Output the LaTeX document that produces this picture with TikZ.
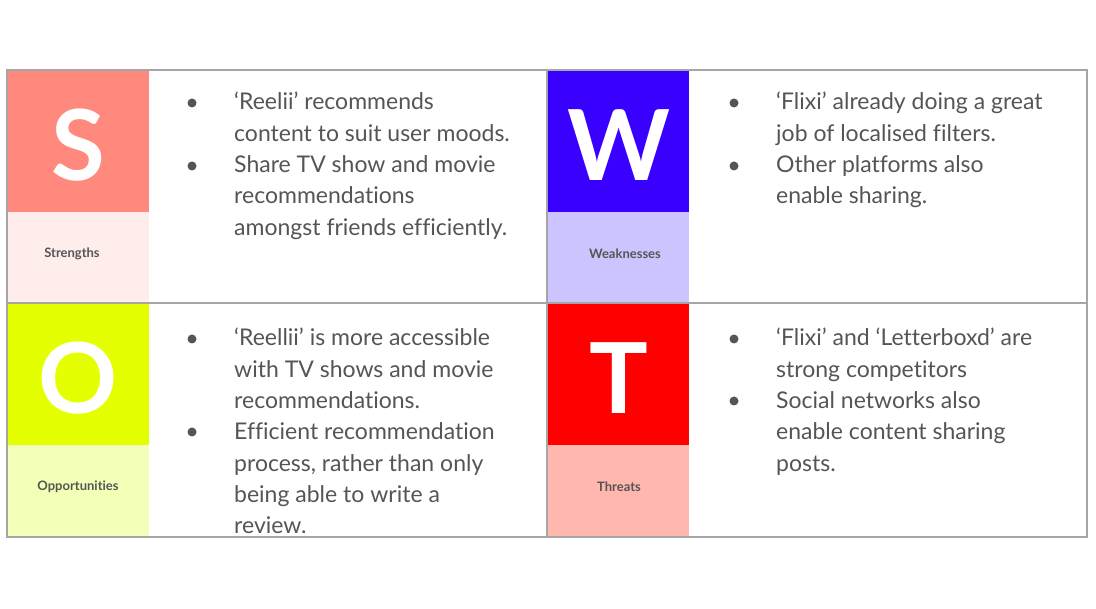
\documentclass[tikz,border=0pt]{standalone}
\usepackage{fontspec}
\setmainfont{Lato}[Ligatures={NoCommon}]
\definecolor{txt}{HTML}{555555}
\definecolor{frame}{HTML}{A6A6A6}
\definecolor{sTop}{HTML}{FF897D}
\definecolor{sBot}{HTML}{FFEDEB}
\definecolor{wTop}{HTML}{3A00FF}
\definecolor{wBot}{HTML}{CCC4FF}
\definecolor{oTop}{HTML}{E4FF00}
\definecolor{oBot}{HTML}{F2FFB6}
\definecolor{tTop}{HTML}{FF0000}
\definecolor{tBot}{HTML}{FFB7AE}
\tikzset{
  x=1pt, y=-1pt,
  cell/.style={draw=none, inner sep=0pt, outer sep=0pt, anchor=north west},
  letter/.style={text=white, font=\bfseries\fontsize{98}{98}\selectfont, inner sep=0pt},
  lab/.style={text=txt, font=\bfseries\fontsize{13}{15}\selectfont, inner sep=0pt},
  body/.style={text=txt, font=\fontsize{23}{28}\selectfont, inner sep=0pt, anchor=base west},
  dot/.style={circle, fill=txt, inner sep=0pt, minimum size=9pt},
  rule/.style={draw=frame, line width=1.3pt}
}
\begin{document}
\begin{tikzpicture}
\useasboundingbox (0,0) rectangle (1096,609);
% coloured cells
\node[cell, fill=sTop, minimum width=142pt, minimum height=142pt] (sbox) at (7,70) {};
\node[cell, fill=sBot, minimum width=142pt, minimum height=91pt] (sfoot) at (7,212) {};
\node[cell, fill=wTop, minimum width=142pt, minimum height=142pt] (wbox) at (547,70) {};
\node[cell, fill=wBot, minimum width=142pt, minimum height=91pt] (wfoot) at (547,212) {};
\node[cell, fill=oTop, minimum width=142pt, minimum height=142pt] (obox) at (7,303) {};
\node[cell, fill=oBot, minimum width=142pt, minimum height=92pt] (ofoot) at (7,445) {};
\node[cell, fill=tTop, minimum width=142pt, minimum height=142pt] (tbox) at (547,303) {};
\node[cell, fill=tBot, minimum width=142pt, minimum height=92pt] (tfoot) at (547,445) {};
% frame
\draw[rule] (7,70) rectangle (1087,537);
\draw[rule] (7,303) -- (1087,303);
\draw[rule] (547,70) -- (547,537);
% letters
\node[letter] (S) at (78,145) {S};
\node[letter] (W) at (619,145) {W};
\node[letter] (O) at (78,378) {O};
\node[letter] (T) at (619,378) {T};
% labels
\node[lab] (sl) at (72,254) {Strengths};
\node[lab] (wl) at (625,254) {Weaknesses};
\node[lab] (ol) at (78,487) {Opportunities};
\node[lab] (tl) at (619,487) {Threats};
% bullets
\node[dot] (sb1) at (192,103) {};
\node[dot] (sb2) at (192,166) {};
\node[dot] (wb1) at (734,103) {};
\node[dot] (wb2) at (734,166) {};
\node[dot] (ob1) at (192,339) {};
\node[dot] (ob2) at (192,432) {};
\node[dot] (tb1) at (734,339) {};
\node[dot] (tb2) at (734,401) {};
% body text
\foreach \t [count=\i] in {‘Reelii’ recommends, content to suit user moods., Share TV show and movie, recommendations, amongst friends efficiently.}
  \node[body] (s\i) at (234,{110+31.3*(\i-1)}) {\t};
\foreach \t [count=\i] in {‘Flixi’ already doing a great, job of localised filters., Other platforms also, enable sharing.}
  \node[body] (w\i) at (776,{110+31.3*(\i-1)}) {\t};
\foreach \t [count=\i] in {‘Reellii’ is more accessible, with TV shows and movie, recommendations., Efficient recommendation, {process, rather than only}, being able to write a, review.}
  \node[body] (o\i) at (234,{346+31.3*(\i-1)}) {\t};
\foreach \t [count=\i] in {‘Flixi’ and ‘Letterboxd’ are, strong competitors, Social networks also, enable content sharing, posts.}
  \node[body] (t\i) at (776,{346+31.3*(\i-1)}) {\t};
\end{tikzpicture}
\end{document}
